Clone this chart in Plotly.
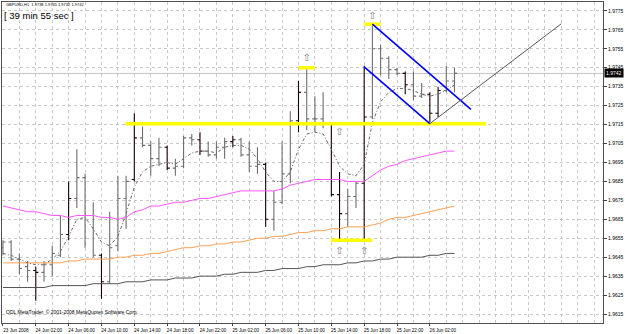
import plotly.graph_objects as go
import pandas as pd

# ---------------- data ----------------
start = pd.Timestamp("2008-06-23 22:00")
times = list(pd.date_range(start, periods=56, freq="h"))

opens = [1.9650, 1.9653, 1.9644, 1.9640, 1.9638, 1.9637, 1.9641, 1.9646, 1.9657, 1.9676,
         1.9687, 1.9667, 1.9646, 1.9632, 1.9651, 1.9676, 1.9686, 1.9708, 1.9704, 1.9697,
         1.9703, 1.9692, 1.9693, 1.9708, 1.9707, 1.9701, 1.9699, 1.9703, 1.9706, 1.9707,
         1.9699, 1.9693, 1.9694, 1.9665, 1.9674, 1.9689, 1.9717, 1.9732, 1.9718, 1.9718,
         1.9715, 1.9678, 1.9668, 1.9677, 1.9684, 1.9719, 1.9755, 1.9750, 1.9744, 1.9742,
         1.9736, 1.9730, 1.9731, 1.9721, 1.9733, 1.9738]
highs = [1.9654, 1.9654, 1.9647, 1.9643, 1.9640, 1.9643, 1.9651, 1.9667, 1.9685, 1.9702,
         1.9689, 1.9674, 1.9647, 1.9669, 1.9688, 1.9688, 1.9721, 1.9714, 1.9706, 1.9708,
         1.9704, 1.9697, 1.9709, 1.9710, 1.9711, 1.9706, 1.9706, 1.9708, 1.9709, 1.9708,
         1.9706, 1.9703, 1.9695, 1.9680, 1.9706, 1.9722, 1.9738, 1.9745, 1.9730, 1.9732,
         1.9716, 1.9690, 1.9681, 1.9685, 1.9746, 1.9768, 1.9757, 1.9751, 1.9745, 1.9743,
         1.9743, 1.9737, 1.9732, 1.9735, 1.9746, 1.9745]
lows = [1.9646, 1.9643, 1.9636, 1.9632, 1.9622, 1.9632, 1.9635, 1.9645, 1.9654, 1.9671,
        1.9650, 1.9645, 1.9623, 1.9631, 1.9648, 1.9660, 1.9685, 1.9703, 1.9688, 1.9693,
        1.9691, 1.9688, 1.9692, 1.9704, 1.9699, 1.9698, 1.9697, 1.9697, 1.9703, 1.9698,
        1.9690, 1.9689, 1.9661, 1.9659, 1.9673, 1.9684, 1.9711, 1.9712, 1.9711, 1.9713,
        1.9677, 1.9653, 1.9661, 1.9671, 1.9653, 1.9718, 1.9741, 1.9739, 1.9741, 1.9731,
        1.9728, 1.9729, 1.9716, 1.9719, 1.9732, 1.9732]
closes = [1.9653, 1.9644, 1.9639, 1.9638, 1.9637, 1.9641, 1.9647, 1.9657, 1.9676, 1.9687,
          1.9667, 1.9646, 1.9632, 1.9650, 1.9676, 1.9685, 1.9708, 1.9704, 1.9697, 1.9703,
          1.9692, 1.9693, 1.9708, 1.9707, 1.9701, 1.9699, 1.9703, 1.9706, 1.9707, 1.9699,
          1.9693, 1.9694, 1.9665, 1.9674, 1.9689, 1.9717, 1.9732, 1.9718, 1.9718, 1.9715,
          1.9678, 1.9668, 1.9677, 1.9684, 1.9719, 1.9755, 1.9750, 1.9744, 1.9742, 1.9736,
          1.9730, 1.9731, 1.9721, 1.9733, 1.9738, 1.9742]

# bars that appear dark (pixel-aligned) in the screenshot; the rest look grey
dark_bars = [4, 8, 12, 16, 20, 24, 28, 32, 36, 40, 41, 44, 49, 52, 53]

ma_fast = [1.9647, 1.9646, 1.9644, 1.9642, 1.9641, 1.9641, 1.9644, 1.9648, 1.9656, 1.9665,
           1.9666, 1.9660, 1.9653, 1.9651, 1.9656, 1.9668, 1.9682, 1.9690, 1.9693, 1.9694,
           1.9695, 1.9694, 1.9697, 1.9700, 1.9701, 1.9701, 1.9700, 1.9703, 1.9704, 1.9704,
           1.9702, 1.9697, 1.9690, 1.9685, 1.9685, 1.9690, 1.9702, 1.9710, 1.9711, 1.9710,
           1.9702, 1.9693, 1.9689, 1.9688, 1.9694, 1.9716, 1.9727, 1.9732, 1.9734, 1.9734,
           1.9733, 1.9731, 1.9730, 1.9731, 1.9733, 1.9736]
ma_magenta = [1.9672, 1.9671, 1.9670, 1.9669, 1.9669, 1.9668, 1.9667, 1.9667, 1.9666, 1.9667,
              1.9667, 1.9667, 1.9666, 1.9666, 1.9665, 1.9666, 1.9669, 1.9670, 1.9672, 1.9672,
              1.9673, 1.9674, 1.9674, 1.9675, 1.9676, 1.9676, 1.9677, 1.9678, 1.9679, 1.9680,
              1.9680, 1.9680, 1.9680, 1.9680, 1.9681, 1.9683, 1.9684, 1.9685, 1.9686, 1.9686,
              1.9686, 1.9686, 1.9685, 1.9685, 1.9685, 1.9688, 1.9691, 1.9693, 1.9694, 1.9696,
              1.9697, 1.9698, 1.9699, 1.9700, 1.9701, 1.9701]
ma_orange = [1.9642, 1.9642, 1.9642, 1.9642, 1.9642, 1.9642, 1.9642, 1.9642, 1.9643, 1.9643,
             1.9644, 1.9644, 1.9644, 1.9644, 1.9645, 1.9645, 1.9646, 1.9646, 1.9647, 1.9647,
             1.9648, 1.9649, 1.9650, 1.9650, 1.9651, 1.9651, 1.9652, 1.9652, 1.9653, 1.9653,
             1.9654, 1.9655, 1.9655, 1.9656, 1.9656, 1.9657, 1.9658, 1.9658, 1.9659, 1.9659,
             1.9660, 1.9660, 1.9661, 1.9661, 1.9661, 1.9662, 1.9663, 1.9665, 1.9666, 1.9666,
             1.9667, 1.9668, 1.9669, 1.9670, 1.9671, 1.9672]
ma_dark = [1.9629, 1.9629, 1.9629, 1.9629, 1.9629, 1.9629, 1.9630, 1.9630, 1.9630, 1.9630,
           1.9630, 1.9631, 1.9631, 1.9631, 1.9631, 1.9632, 1.9632, 1.9632, 1.9633, 1.9633,
           1.9633, 1.9634, 1.9634, 1.9634, 1.9635, 1.9635, 1.9635, 1.9636, 1.9636, 1.9637,
           1.9637, 1.9637, 1.9638, 1.9638, 1.9639, 1.9639, 1.9639, 1.9640, 1.9640, 1.9641,
           1.9641, 1.9641, 1.9642, 1.9642, 1.9643, 1.9643, 1.9644, 1.9644, 1.9645, 1.9645,
           1.9645, 1.9645, 1.9646, 1.9646, 1.9647, 1.9647]

# drawn objects (time, price pairs)
yellow_segments = [
    (("2008-06-24 12:55", 1.97155), ("2008-06-26 08:50", 1.97155)),
    (("2008-06-25 10:00", 1.9745), ("2008-06-25 12:00", 1.9745)),
    (("2008-06-25 14:00", 1.9654), ("2008-06-25 19:00", 1.9654)),
    (("2008-06-25 18:00", 1.9768), ("2008-06-25 20:00", 1.9768)),
]
channel_segments = [
    (("2008-06-25 19:00", 1.9768), ("2008-06-26 07:00", 1.9723)),
    (("2008-06-25 18:00", 1.97455), ("2008-06-26 02:00", 1.97155)),
]
trend_segment = (("2008-06-26 02:00", 1.97155), ("2008-06-26 18:00", 1.97682))

arrow_times = ["2008-06-25 11:00", "2008-06-25 15:00", "2008-06-25 15:00",
               "2008-06-25 18:00", "2008-06-25 19:00"]
arrow_prices = [1.9750, 1.9711, 1.9648, 1.9648, 1.9772]

x_tick_times = list(pd.date_range("2008-06-23 22:00", "2008-06-26 02:00", freq="4h"))
x_tick_text = ["23 Jun 2008"] + [t.strftime("%d Jun %H:%M") for t in x_tick_times[1:]]
y_ticks = [round(1.9615 + 0.001 * i, 4) for i in range(17)]
y_tick_text = [f"{v:.4f}" for v in y_ticks]

FONT = "Liberation Sans, Arial, sans-serif"


def seg_xy(segs):
    xs, ys = [], []
    for (a, b) in segs:
        xs += [a[0], b[0], None]
        ys += [a[1], b[1], None]
    return xs, ys


def pick(seq, idx):
    return [seq[i] for i in idx]


fig = go.Figure()

fig.add_trace(go.Scatter(x=times, y=ma_dark, mode="lines",
                         line=dict(color="#555555", width=1), hoverinfo="skip"))
fig.add_trace(go.Scatter(x=times, y=ma_orange, mode="lines",
                         line=dict(color="#ffa050", width=1), hoverinfo="skip"))
fig.add_trace(go.Scatter(x=times, y=ma_magenta, mode="lines",
                         line=dict(color="#ff55ff", width=1), hoverinfo="skip"))
fig.add_trace(go.Scatter(x=times, y=ma_fast, mode="lines",
                         line=dict(color="#6a6a6a", width=1, dash="3px,2px,1px,2px"),
                         hoverinfo="skip"))

grey_idx = [i for i in range(len(times)) if i not in dark_bars]
for idx, col in ((grey_idx, "#6e6e6e"), (dark_bars, "#1a0000")):
    fig.add_trace(go.Ohlc(x=pick(times, idx), open=pick(opens, idx), high=pick(highs, idx),
                          low=pick(lows, idx), close=pick(closes, idx),
                          increasing=dict(line=dict(color=col, width=1.1)),
                          decreasing=dict(line=dict(color=col, width=1.1)),
                          tickwidth=0.32, hoverinfo="skip"))

yx, yy = seg_xy(yellow_segments)
fig.add_trace(go.Scatter(x=yx, y=yy, mode="lines",
                         line=dict(color="#ffff00", width=3.5), hoverinfo="skip"))
cx, cy = seg_xy(channel_segments)
fig.add_trace(go.Scatter(x=cx, y=cy, mode="lines",
                         line=dict(color="#0000ff", width=1.6), hoverinfo="skip"))
tx, ty = seg_xy([trend_segment])
fig.add_trace(go.Scatter(x=tx, y=ty, mode="lines",
                         line=dict(color="#555555", width=1), hoverinfo="skip"))
fig.add_trace(go.Scatter(x=arrow_times, y=arrow_prices, mode="text", text=["⇧"] * len(arrow_times),
                         textfont=dict(family="DejaVu Sans", size=10, color="#7a7a7a"),
                         hoverinfo="skip"))

last_close = closes[-1]
fig.add_shape(type="line", xref="paper", x0=0, x1=1, yref="y", y0=last_close, y1=last_close,
              line=dict(color="#c4c4c4", width=1), layer="below")

fig.add_annotation(xref="paper", yref="y", x=1, y=last_close, xanchor="left", yanchor="middle",
                   text=f"{last_close:.4f}", showarrow=False, bgcolor="#000000",
                   font=dict(family=FONT, size=5, color="#ffffff"), borderpad=1, xshift=1)
fig.add_annotation(xref="paper", yref="paper", x=0.003, y=0.9907, xanchor="left", yanchor="middle",
                   text=f"GBPUSD,H1  {opens[-1]:.4f} {highs[-1]:.4f} {lows[-1]:.4f} {closes[-1]:.4f}",
                   showarrow=False, font=dict(family=FONT, size=4, color="#000000"))
fig.add_annotation(xref="paper", yref="paper", x=0.0, y=0.9565, xanchor="left", yanchor="middle",
                   text="[ 39 min 55 sec ]", showarrow=False,
                   font=dict(family=FONT, size=9.5, color="#000000"))
fig.add_annotation(xref="paper", yref="paper", x=0.003, y=0.034, xanchor="left", yanchor="middle",
                   text="ODL MetaTrader, © 2001-2008 MetaQuotes Software Corp.", showarrow=False,
                   font=dict(family=FONT, size=5, color="#000000"))

x0 = start - pd.Timedelta(minutes=7)
x1 = start + pd.Timedelta(hours=73.09)

fig.update_layout(
    width=625, height=334,
    margin=dict(l=1, r=20, t=2, b=10),
    paper_bgcolor="#ffffff", plot_bgcolor="#ffffff",
    showlegend=False,
    xaxis=dict(type="date", range=[x0, x1], rangeslider=dict(visible=False),
               tickvals=x_tick_times, ticktext=x_tick_text,
               tickfont=dict(family=FONT, size=4.6, color="#000000"),
               ticks="outside", ticklen=2, tickcolor="#404040", ticklabelshift=13,
               showgrid=True, gridcolor="#c8c8c8", griddash="dot", gridwidth=1,
               minor=dict(dtick=7200000, tick0="2008-06-24 00:00", showgrid=True,
                          gridcolor="#c8c8c8", griddash="dot", gridwidth=1),
               showline=True, linecolor="#505050", linewidth=1, mirror=True,
               zeroline=False, fixedrange=True),
    yaxis=dict(side="right", range=[1.961026, 1.97797],
               tickmode="array", tickvals=y_ticks, ticktext=y_tick_text, ticklabelstep=1,
               tickfont=dict(family=FONT, size=5, color="#000000"),
               ticks="outside", ticklen=3, tickcolor="#404040",
               showgrid=True, gridcolor="#c8c8c8", griddash="dot", gridwidth=1,
               showline=True, linecolor="#505050", linewidth=1, mirror=True,
               zeroline=False, fixedrange=True),
)

fig.write_html("out.html")
